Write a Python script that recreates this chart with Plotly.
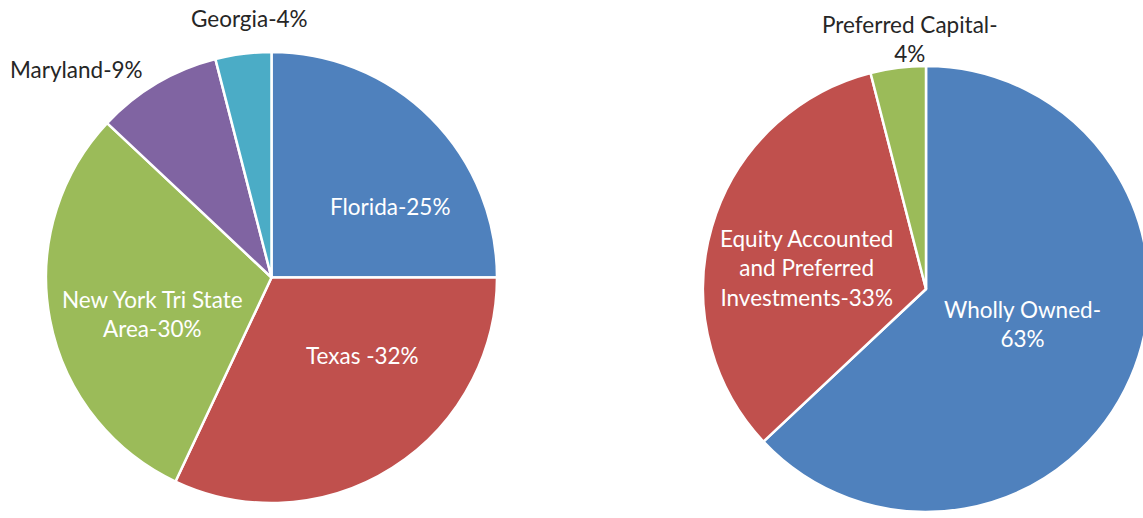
import plotly.graph_objects as go

# ---- data ----
left_labels = ["Florida", "Texas ", "New York Tri State Area", "Maryland", "Georgia"]
left_values = [25, 32, 30, 9, 4]
right_labels = ["Wholly Owned", "Equity Accounted and Preferred Investments", "Preferred Capital"]
right_values = [63, 33, 4]

# ---- styling ----
W, H = 1160, 518
left_colors = ["#4F81BD", "#C0504D", "#9BBB59", "#8064A2", "#4BACC6"]
right_colors = ["#4F81BD", "#C0504D", "#9BBB59"]
FONT = "Lato"
FS = 22.5

# label line wrapping (display only)
wrap = {
    "New York Tri State Area": "New York Tri State<br>Area-{v}%",
    "Wholly Owned": "Wholly Owned-<br>{v}%",
    "Equity Accounted and Preferred Investments": "Equity Accounted<br>and Preferred<br>Investments-{v}%",
    "Preferred Capital": "Preferred Capital-<br>{v}%",
}


def label_text(name, v):
    return wrap.get(name, name + "-{v}%").format(v=v)


# label positions in pixels (center x, center y), color inside/outside
left_pos = [(390, 206, "white"), (362, 355, "white"), (152, 313.5, "white"),
            (76, 70, "#262626"), (250, 18.5, "#262626")]
right_pos = [(1022, 324, "white"), (806, 268, "white"), (910, 39, "#262626")]


def dom_x(a, b):
    return [a / W, b / W]


def dom_y(top, bottom):
    return [(H - bottom) / H, (H - top) / H]


fig = go.Figure()
fig.add_trace(go.Pie(
    labels=left_labels, values=left_values, sort=False, direction="clockwise",
    rotation=0, marker=dict(colors=left_colors, line=dict(color="white", width=2.5)),
    textinfo="none", hoverinfo="label+percent", showlegend=False,
    domain=dict(x=dom_x(45, 498), y=dom_y(52, 503)),
))
fig.add_trace(go.Pie(
    labels=right_labels, values=right_values, sort=False, direction="clockwise",
    rotation=0, marker=dict(colors=right_colors, line=dict(color="white", width=2.5)),
    textinfo="none", hoverinfo="label+percent", showlegend=False,
    domain=dict(x=dom_x(702, 1150), y=dom_y(66, 512)),
))

annotations = []
for names, vals, pos in [(left_labels, left_values, left_pos), (right_labels, right_values, right_pos)]:
    for n, v, (px, py, col) in zip(names, vals, pos):
        annotations.append(dict(
            text=label_text(n, v), x=px / W, y=1 - py / H, xref="paper", yref="paper",
            xanchor="center", yanchor="middle", showarrow=False, align="center",
            font=dict(family=FONT, size=FS, color=col),
        ))

fig.update_layout(
    width=W, height=H, margin=dict(l=0, r=0, t=0, b=0),
    paper_bgcolor="white", plot_bgcolor="white",
    annotations=annotations,
)

fig.write_html(
    "out.html",
    config={"displayModeBar": False},
    post_script="document.documentElement.style.overflow='hidden';document.body.style.overflow='hidden';document.body.style.margin='0';",
)
